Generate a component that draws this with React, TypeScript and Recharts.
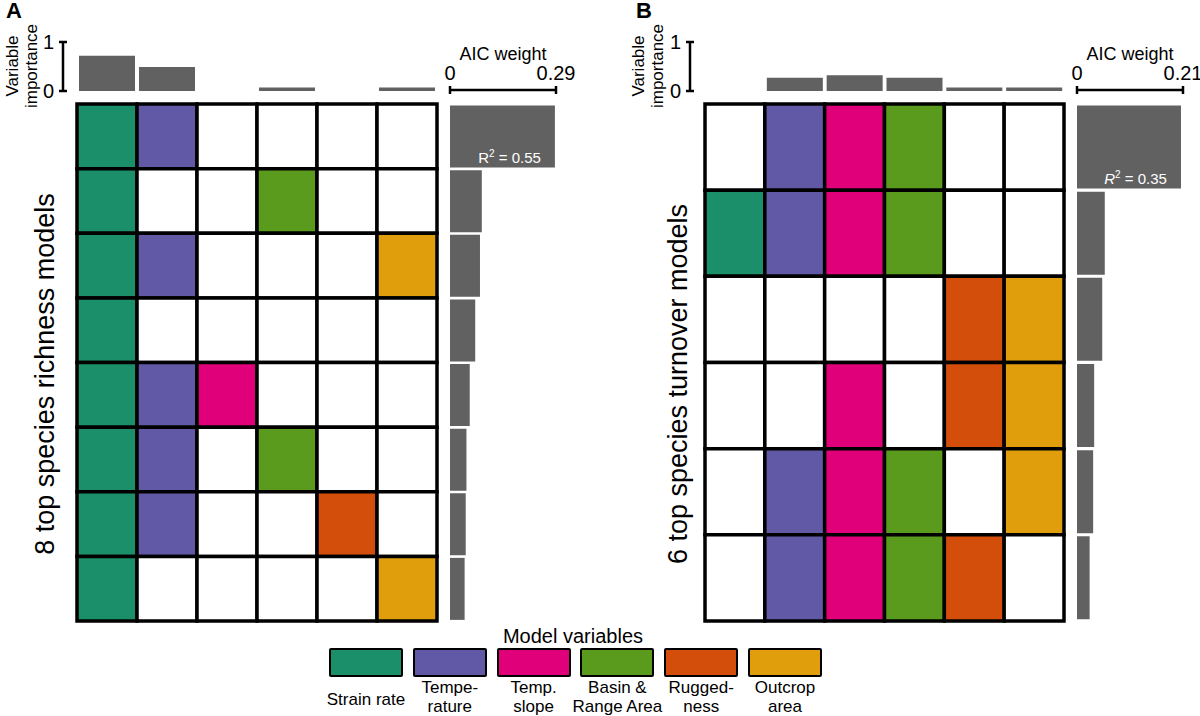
import React from 'react';
import { BarChart, Bar, ComposedChart, XAxis, YAxis, ReferenceArea, LabelList } from 'recharts';

const FONT = '"Liberation Sans", Arial, Helvetica, sans-serif';
const GRAY = '#616161';

const variableNames = ['Strain rate', 'Temperature', 'Temp. slope', 'Basin & Range Area', 'Ruggedness', 'Outcrop area'];
const legendLabels = [['Strain rate'], ['Tempe-', 'rature'], ['Temp.', 'slope'], ['Basin &', 'Range Area'], ['Rugged-', 'ness'], ['Outcrop', 'area']];
const variableColors = ['#1b8f69', '#6259a6', '#e0007a', '#5a9b1d', '#d24e0a', '#e09e0c'];

// each model lists the indices of the variables it contains, top row first
const richnessModels = [[0, 1], [0, 3], [0, 1, 5], [0], [0, 1, 2], [0, 1, 3], [0, 1, 4], [0, 5]];
const richnessImportance = [0.72, 0.49, 0, 0.07, 0, 0.07];
const richnessAic = [0.287, 0.087, 0.082, 0.069, 0.054, 0.045, 0.043, 0.04];
const richnessAicMax = 0.29;
const richnessR2 = '0.55';

const turnoverModels = [[1, 2, 3], [0, 1, 2, 3], [4, 5], [2, 4, 5], [1, 2, 3, 5], [1, 2, 3, 4]];
const turnoverImportance = [0, 0.27, 0.32, 0.27, 0.07, 0.07];
const turnoverAic = [0.206, 0.055, 0.05, 0.034, 0.032, 0.025];
const turnoverAicMax = 0.21;
const turnoverR2 = '0.35';

const GRID_TOP = 104;
const GRID_BOTTOM = 621;
const AIC_AXIS_Y = 90;

const CapTick = (props: any) => {
  const { x, y, payload, orient } = props;
  if (orient === 'left') {
    return (
      <g>
        <line x1={x - 4} x2={x + 4} y1={y} y2={y} stroke="#000" strokeWidth={2.5} />
        <text x={x - 9} y={y} dy="0.36em" textAnchor="end" fontSize={20} fontFamily={FONT} fill="#000">
          {String(payload.value)}
        </text>
      </g>
    );
  }
  return (
    <g>
      <line x1={x} x2={x} y1={y - 4} y2={y + 4} stroke="#000" strokeWidth={2.5} />
      <text x={x} y={y - 10} textAnchor="middle" fontSize={20} fontFamily={FONT} fill="#000">
        {String(payload.value)}
      </text>
    </g>
  );
};

const R2Label = (props: any) => {
  const { index, r2, italic } = props;
  if (index !== 0) return null;
  const vb = props.viewBox || props;
  const { x, y, width, height } = vb;
  return (
    <text x={x + width - 14} y={y + height - 5} textAnchor="end" fill="#fff" fontSize={15} fontFamily={FONT}>
      <tspan fontStyle={italic ? 'italic' : 'normal'}>R</tspan>
      <tspan fontSize={10} dy={-6}>2</tspan>
      <tspan dy={6}>{' = ' + r2}</tspan>
    </text>
  );
};

function ModelGrid({ models, left, right }: { models: number[][]; left: number; right: number }) {
  const cells = models.flatMap((vars, r) =>
    variableNames.map((_, c) => ({ r, c, fill: vars.includes(c) ? variableColors[c] : '#ffffff' }))
  );
  const pad = 4;
  return (
    <div style={{ position: 'absolute', left: left - pad, top: GRID_TOP - pad }}>
      <ComposedChart
        width={right - left + 2 * pad}
        height={GRID_BOTTOM - GRID_TOP + 2 * pad}
        margin={{ top: pad, right: pad, bottom: pad, left: pad }}
        data={cells}
      >
        <XAxis type="number" dataKey="c" domain={[0, variableNames.length]} hide />
        <YAxis type="number" dataKey="r" domain={[0, models.length]} reversed hide />
        {cells.map((cell) => (
          <ReferenceArea
            key={`${cell.r}-${cell.c}`}
            x1={cell.c}
            x2={cell.c + 1}
            y1={cell.r}
            y2={cell.r + 1}
            fill={cell.fill}
            fillOpacity={1}
            stroke="#000"
            strokeWidth={3.5}
            ifOverflow="visible"
          />
        ))}
      </ComposedChart>
    </div>
  );
}

function ImportanceBars({ values, axisX, left, right }: { values: number[]; axisX: number; left: number; right: number }) {
  const data = values.map((v, i) => ({ name: variableNames[i], value: v }));
  const yAxisW = 30;
  const chartLeft = axisX - yAxisW;
  const top = 42;
  const bottom = 91;
  const m = 14;
  return (
    <div style={{ position: 'absolute', left: chartLeft, top: top - m }}>
      <BarChart
        width={right + 2 - chartLeft}
        height={bottom - top + 2 * m}
        data={data}
        margin={{ top: m, right: 2, bottom: m, left: 0 }}
        barCategoryGap={2}
      >
        <XAxis dataKey="name" hide padding={{ left: left - axisX, right: 0 }} />
        <YAxis
          width={yAxisW}
          domain={[0, 1]}
          ticks={[0, 1]}
          interval={0}
          tickSize={0}
          tickMargin={0}
          tickLine={false}
          axisLine={{ stroke: '#000', strokeWidth: 2.5 }}
          tick={<CapTick orient="left" />}
        />
        <Bar dataKey="value" fill={GRAY} isAnimationActive={false} />
      </BarChart>
    </div>
  );
}

function AicBars({ values, max, left, right, r2, italic }: { values: number[]; max: number; left: number; right: number; r2: string; italic: boolean }) {
  const data = values.map((w, i) => ({ model: `m${i + 1}`, w }));
  const axisH = 30;
  const mTop = 2;
  const mLeft = 15;
  const mRight = 30;
  const chartTop = AIC_AXIS_Y - axisH - mTop;
  return (
    <div style={{ position: 'absolute', left: left - mLeft, top: chartTop }}>
      <BarChart
        layout="vertical"
        width={right - left + mLeft + mRight}
        height={GRID_BOTTOM - chartTop + 2}
        data={data}
        margin={{ top: mTop, right: mRight, bottom: 2, left: mLeft }}
        barCategoryGap={1.5}
      >
        <XAxis
          type="number"
          orientation="top"
          height={axisH}
          domain={[0, max]}
          ticks={[0, max]}
          interval={0}
          allowDataOverflow
          tickSize={0}
          tickMargin={0}
          tickLine={false}
          axisLine={{ stroke: '#000', strokeWidth: 2.5 }}
          tick={<CapTick orient="top" />}
        />
        <YAxis type="category" dataKey="model" hide padding={{ top: GRID_TOP - AIC_AXIS_Y, bottom: 0 }} />
        <Bar dataKey="w" fill={GRAY} isAnimationActive={false}>
          <LabelList dataKey="w" content={<R2Label r2={r2} italic={italic} />} />
        </Bar>
      </BarChart>
    </div>
  );
}

function RotatedText({ cx, cy, size, lines, lineHeight }: { cx: number; cy: number; size: number; lines: string[]; lineHeight?: number }) {
  return (
    <div
      style={{
        position: 'absolute',
        left: cx,
        top: cy,
        transform: 'translate(-50%, -50%) rotate(-90deg)',
        whiteSpace: 'nowrap',
        textAlign: 'center',
        fontSize: size,
        lineHeight: `${lineHeight ?? size * 1.15}px`,
      }}
    >
      {lines.map((l) => (
        <div key={l}>{l}</div>
      ))}
    </div>
  );
}

function Panel(p: {
  letter: string;
  letterX: number;
  models: number[][];
  importance: number[];
  aic: number[];
  aicMax: number;
  r2: string;
  italic: boolean;
  title: string;
  titleX: number;
  titleY: number;
  vipX: number;
  axisX: number;
  gridLeft: number;
  gridRight: number;
  aicLeft: number;
  aicRight: number;
}) {
  return (
    <>
      <div style={{ position: 'absolute', left: p.letterX, top: 0, fontSize: 22, lineHeight: '22px', fontWeight: 'bold' }}>{p.letter}</div>
      <RotatedText cx={p.vipX} cy={66} size={17} lines={['Variable', 'importance']} lineHeight={19} />
      <ImportanceBars values={p.importance} axisX={p.axisX} left={p.gridLeft} right={p.gridRight} />
      <ModelGrid models={p.models} left={p.gridLeft} right={p.gridRight} />
      <RotatedText cx={p.titleX} cy={p.titleY} size={27} lines={[p.title]} />
      <div
        style={{
          position: 'absolute',
          left: (p.aicLeft + p.aicRight) / 2,
          top: 54,
          transform: 'translate(-50%, -50%)',
          fontSize: 18,
          whiteSpace: 'nowrap',
        }}
      >
        AIC weight
      </div>
      <AicBars values={p.aic} max={p.aicMax} left={p.aicLeft} right={p.aicRight} r2={p.r2} italic={p.italic} />
    </>
  );
}

function ModelLegend() {
  const swLeft = 329;
  const swStep = 83.8;
  const swW = 74;
  return (
    <>
      <div style={{ position: 'absolute', left: 573, top: 636, transform: 'translate(-50%, -50%)', fontSize: 20, whiteSpace: 'nowrap' }}>
        Model variables
      </div>
      {variableColors.map((c, i) => {
        const x = swLeft + i * swStep;
        const lines = legendLabels[i];
        return (
          <React.Fragment key={variableNames[i]}>
            <div
              style={{
                position: 'absolute',
                left: x,
                top: 648,
                width: swW,
                height: 29,
                boxSizing: 'border-box',
                background: c,
                border: '2.5px solid #000',
                borderRadius: 2,
              }}
            />
            <div
              style={{
                position: 'absolute',
                left: x + swW / 2,
                top: lines.length === 1 ? 699 : 697,
                transform: 'translate(-50%, -50%)',
                fontSize: 17,
                lineHeight: '19px',
                textAlign: 'center',
                whiteSpace: 'nowrap',
              }}
            >
              {lines.map((l) => (
                <div key={l}>{l}</div>
              ))}
            </div>
          </React.Fragment>
        );
      })}
    </>
  );
}

export default function App() {
  return (
    <div
      style={{
        position: 'absolute',
        left: 0,
        top: 0,
        width: 1200,
        height: 716,
        overflow: 'hidden',
        background: '#fff',
        fontFamily: FONT,
        color: '#000',
      }}
    >
      <Panel
        letter="A"
        letterX={6}
        models={richnessModels}
        importance={richnessImportance}
        aic={richnessAic}
        aicMax={richnessAicMax}
        r2={richnessR2}
        italic={false}
        title="8 top species richness models"
        titleX={46}
        titleY={374}
        vipX={22}
        axisX={63}
        gridLeft={77}
        gridRight={437}
        aicLeft={450}
        aicRight={556}
      />
      <Panel
        letter="B"
        letterX={636}
        models={turnoverModels}
        importance={turnoverImportance}
        aic={turnoverAic}
        aicMax={turnoverAicMax}
        r2={turnoverR2}
        italic={true}
        title="6 top species turnover models"
        titleX={679}
        titleY={384}
        vipX={648}
        axisX={690}
        gridLeft={705}
        gridRight={1064}
        aicLeft={1077}
        aicRight={1183}
      />
      <ModelLegend />
    </div>
  );
}
